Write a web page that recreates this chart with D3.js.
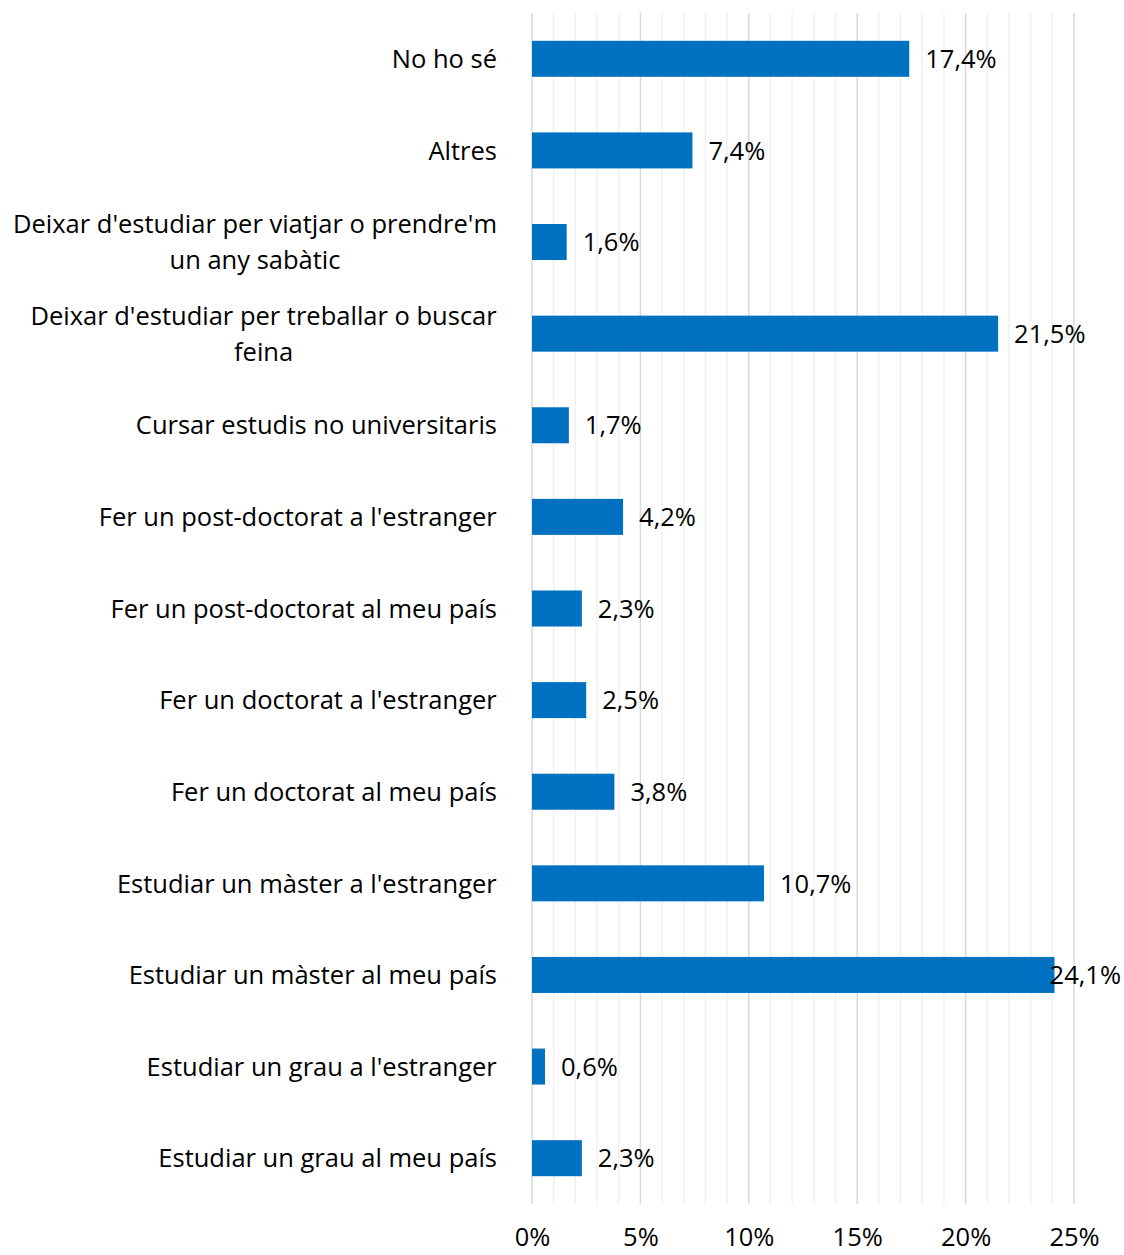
<!DOCTYPE html>
<html><head><meta charset="utf-8">
<script src="https://cdn.jsdelivr.net/npm/d3@7"></script>
<style>body{margin:0;background:#fff}text{font-family:"Open Sans",sans-serif;fill:#000}</style>
</head><body><svg id="c" width="1124" height="1255"></svg>
<script>
const categories = [
  ["No ho sé"],
  ["Altres"],
  ["Deixar d'estudiar per viatjar o prendre'm", "un any sabàtic"],
  ["Deixar d'estudiar per treballar o buscar", "feina"],
  ["Cursar estudis no universitaris"],
  ["Fer un post-doctorat a l'estranger"],
  ["Fer un post-doctorat al meu país"],
  ["Fer un doctorat a l'estranger"],
  ["Fer un doctorat al meu país"],
  ["Estudiar un màster a l'estranger"],
  ["Estudiar un màster al meu país"],
  ["Estudiar un grau a l'estranger"],
  ["Estudiar un grau al meu país"]
];
const values = [17.4, 7.4, 1.6, 21.5, 1.7, 4.2, 2.3, 2.5, 3.8, 10.7, 24.1, 0.6, 2.3];
const majorTicks = [0, 5, 10, 15, 20, 25];
const minorTicks = d3.range(0, 26, 1);

const FS = 25.5;
const svg = d3.select("#c");
const mLeft = 532, mRight = 1074, mTop = 13, mBottom = 1204;
const x = d3.scaleLinear().domain([0, 25]).range([mLeft, mRight]);
const y = d3.scaleBand().domain(d3.range(categories.length)).range([mTop, mBottom]).paddingInner(0.607).paddingOuter(0.3035);

svg.append("g").selectAll("line").data(minorTicks.filter(t => t % 5 !== 0)).join("line")
  .attr("x1", d => x(d)).attr("x2", d => x(d)).attr("y1", mTop).attr("y2", mBottom)
  .attr("stroke", "#efefef").attr("stroke-width", 1.3);
svg.append("g").selectAll("line").data(majorTicks).join("line")
  .attr("x1", d => x(d)).attr("x2", d => x(d)).attr("y1", mTop).attr("y2", mBottom)
  .attr("stroke", "#d9d9d9").attr("stroke-width", 1.5);

svg.append("g").selectAll("rect").data(values).join("rect")
  .attr("x", x(0)).attr("y", (d, i) => y(i)).attr("width", d => x(d) - x(0)).attr("height", y.bandwidth())
  .attr("fill", "#0070C0");

const fmt = v => v.toFixed(1).replace(".", ",") + "%";
svg.append("g").selectAll("text").data(values).join("text")
  .attr("x", d => x(d) + 16).attr("y", (d, i) => y(i) + y.bandwidth() / 2).attr("dy", "0.36em")
  .attr("font-size", FS).text(d => fmt(d))
  .each(function () {
    const b = this.getBBox();
    if (b.x + b.width > 1121) d3.select(this).attr("x", 1121 - b.width);
  });

const lab = svg.append("g");
categories.forEach((lines, i) => {
  const cy = y(i) + y.bandwidth() / 2;
  const g = lab.append("g");
  const lh = 36;
  const t = g.append("text").attr("font-size", FS).attr("text-anchor", "middle");
  lines.forEach((l, j) => {
    t.append("tspan").attr("x", 0).attr("y", cy + (j - (lines.length - 1) / 2) * lh).attr("dy", "0.36em").text(l);
  });
  const w = t.node().getBBox().width;
  g.attr("transform", `translate(${497 - w / 2},0)`);
});

const ax = d3.axisBottom(x).tickValues(majorTicks).tickFormat(d => d + "%").tickSize(0).tickPadding(0);
const axg = svg.append("g").attr("transform", `translate(0,${mBottom + 24})`).call(ax);
axg.select(".domain").remove();
axg.selectAll("text").attr("font-size", FS).attr("dy", "0.71em").style("font-family", "Open Sans").attr("fill", "#000");
</script></body></html>
